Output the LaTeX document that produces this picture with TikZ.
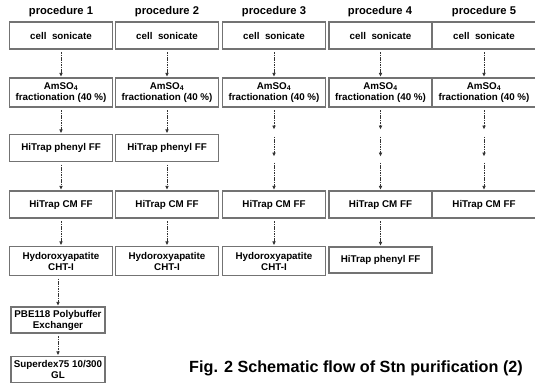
\documentclass[tikz,border=0pt]{standalone}
\usepackage{fontspec}
\setmainfont{Liberation Sans}
\usetikzlibrary{arrows.meta}
\begin{document}
\begin{tikzpicture}[x=1pt,y=-1pt,
  stepbox/.style={draw=black!55, line width=1.3pt,
    minimum width=103pt, minimum height=27pt, inner sep=0pt, align=center,
    font=\bfseries\fontsize{9.8}{11}\selectfont},
  smallbox/.style={stepbox, minimum width=94pt, minimum height=26pt},
  proclabel/.style={font=\bfseries\fontsize{11.2}{13}\selectfont, inner sep=0pt},
  flow/.style={draw=black!80, line width=1pt, dash pattern=on 1.6pt off 0.8pt,
    -{Latex[length=4pt,width=3.8pt]}, shorten >=0.5pt, shorten <=2.5pt},
  caption/.style={font=\bfseries\fontsize{16.2}{18}\selectfont, inner sep=0pt}]
\useasboundingbox (0,0) rectangle (535,383);

% procedure labels
\node[proclabel] (h1) at (61,12) {procedure 1};
\node[proclabel] (h2) at (167,12) {procedure 2};
\node[proclabel] (h3) at (274,12) {procedure 3};
\node[proclabel] (h4) at (380,12) {procedure 4};
\node[proclabel] (h5) at (484,12) {procedure 5};

% row 1: cell sonicate
\node[stepbox] (c1) at (61,35.5) {cell\ \ sonicate};
\node[stepbox] (c2) at (167,35.5) {cell\ \ sonicate};
\node[stepbox] (c3) at (274,35.5) {cell\ \ sonicate};
\node[stepbox] (c4) at (380.5,35.5) {cell\ \ sonicate};
\node[stepbox] (c5) at (484,35.5) {cell\ \ sonicate};

% row 2: AmSO4
\node[stepbox, minimum height=29pt] (a1) at (61,92.5) {AmSO\textsubscript{4}\\fractionation (40 \%)};
\node[stepbox, minimum height=29pt] (a2) at (167,92.5) {AmSO\textsubscript{4}\\fractionation (40 \%)};
\node[stepbox, minimum height=29pt] (a3) at (274,92.5) {AmSO\textsubscript{4}\\fractionation (40 \%)};
\node[stepbox, minimum height=29pt] (a4) at (380.5,92.5) {AmSO\textsubscript{4}\\fractionation (40 \%)};
\node[stepbox, minimum height=29pt] (a5) at (484,92.5) {AmSO\textsubscript{4}\\fractionation (40 \%)};

% row 3: HiTrap phenyl FF
\node[stepbox] (p1) at (61,148) {HiTrap phenyl FF};
\node[stepbox] (p2) at (167,148) {HiTrap phenyl FF};

% row 4: HiTrap CM FF
\node[stepbox] (m1) at (61,204.5) {HiTrap CM FF};
\node[stepbox] (m2) at (167,204.5) {HiTrap CM FF};
\node[stepbox] (m3) at (274,204.5) {HiTrap CM FF};
\node[stepbox] (m4) at (380.5,204.5) {HiTrap CM FF};
\node[stepbox] (m5) at (484,204.5) {HiTrap CM FF};

% row 5
\node[stepbox, minimum height=29pt] (y1) at (61,261) {Hydoroxyapatite\\CHT-I};
\node[stepbox, minimum height=29pt] (y2) at (167,261) {Hydoroxyapatite\\CHT-I};
\node[stepbox, minimum height=29pt] (y3) at (274,261) {Hydoroxyapatite\\CHT-I};
\node[stepbox, minimum height=26pt] (q4) at (380.5,260) {HiTrap phenyl FF};

% rows 6, 7 (procedure 1 only)
\node[smallbox] (e1) at (58,320) {PBE118 Polybuffer\\Exchanger};
\node[smallbox] (s1) at (58,369.5) {Superdex75 10/300\\GL};

% caption
\node[caption, anchor=west] (cap) at (189,368) {Fig. 2 Schematic flow of Stn purification (2)};

% pass-through coordinates for procedures 3-5
\foreach \i/\x in {3/274,4/380.5,5/484}{
  \coordinate (t\i) at (\x,130);
  \coordinate (u\i) at (\x,134);
  \coordinate (v\i) at (\x,157);
  \coordinate (w\i) at (\x,160);
}

% connectors
\foreach \i in {1,...,5}{ \draw[flow] (c\i) -- (a\i); }
\foreach \i in {1,2}{
  \draw[flow] (a\i) -- (p\i);
  \draw[flow] (p\i) -- (m\i);
}
\foreach \i in {3,4,5}{
  \draw[flow] (a\i) -- (t\i);
  \draw[flow] (u\i) -- (v\i);
  \draw[flow] (w\i) -- (m\i);
}
\foreach \i in {1,2,3}{ \draw[flow] (m\i) -- (y\i); }
\draw[flow] (m4) -- (q4);
\draw[flow] (y1.south -| e1.north) -- (e1);
\draw[flow] (e1) -- (s1);
\end{tikzpicture}
\end{document}
